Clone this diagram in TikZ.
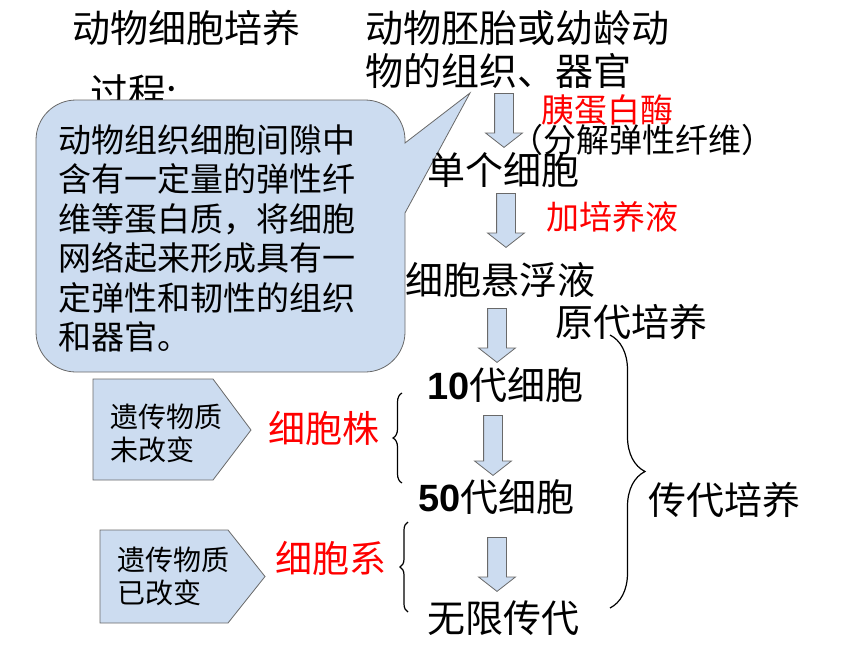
\documentclass[tikz,border=0pt]{standalone}
\usepackage{fontspec}
\setmainfont{Noto Sans CJK SC}
\newfontfamily\arial{Liberation Sans}
\usetikzlibrary{shapes.arrows,decorations.pathreplacing}
\definecolor{boxblue}{RGB}{204,220,240}
\definecolor{edgegray}{RGB}{105,105,105}

\begin{document}
\begin{tikzpicture}[x=1pt, y=-1pt,
    txt/.style={anchor=west, inner sep=0pt, font=\fontsize{38}{43}\selectfont},
    redtxt/.style={anchor=west, inner sep=0pt, text=red, font=\fontsize{33}{38}\selectfont},
    blockarrow/.style={single arrow, shape border rotate=270, anchor=tail, draw=edgegray, fill=boxblue, line width=0.8pt, inner sep=9pt, single arrow head extend=9pt, single arrow tip angle=104, minimum height=#1},
    panel/.style={draw=edgegray, fill=boxblue, line width=0.8pt},
    paneltxt/.style={anchor=west, inner sep=0pt, align=left, font=\fontsize{28}{33}\selectfont},
    curly/.style={decorate, decoration={brace, amplitude=#1}, line width=1.2pt}]
    \useasboundingbox (0,0) rectangle (860,645);

    \node[txt] (title) at (72,28) {动物细胞培养};
    \node[txt] (proc) at (90,92) {过程:};
    \node[txt, align=left] (src) at (365,49.5) {动物胚胎或幼龄动\\物的组织、器官};

    % callout
    \filldraw[panel] (36,236) [rounded corners=40pt] -- (36,100) -- (405,100) [sharp corners] -- (405,143) -- (470,93) -- (405,213) [rounded corners=40pt] -- (405,372) -- (36,372) -- cycle;
    \node[anchor=west, inner sep=0pt, align=left, font=\fontsize{33}{39.5}\selectfont] (fiber) at (58,238.5) {动物组织细胞间隙中\\含有一定量的弹性纤\\维等蛋白质，将细胞\\网络起来形成具有一\\定弹性和韧性的组织\\和器官。};

    % main steps
    \node[blockarrow=54pt] (a1) at (504,93) {};
    \node[redtxt] (enzyme) at (541,110) {胰蛋白酶};
    \node[inner sep=0pt, font=\fontsize{33}{38}\selectfont] (cut) at (642,140) {（分解弹性纤维）};
    \node[txt] (single) at (427,170) {单个细胞};
    \node[blockarrow=54pt] (a2) at (506,193) {};
    \node[redtxt] (medium) at (546,217) {加培养液};
    \node[txt] (susp) at (405,280) {细胞悬浮液};
    \node[txt] (primary) at (555,322) {原代培养};
    \node[blockarrow=54pt] (a3) at (497,308) {};
    \node[txt] (g10) at (427,385) {{\arial\bfseries 10}代细胞};
    \node[blockarrow=60pt] (a4) at (493,415) {};
    \node[txt] (g50) at (418,497) {{\arial\bfseries 50}代细胞};
    \node[blockarrow=54pt] (a5) at (497,537) {};
    \node[txt] (endless) at (427,618) {无限传代};
    \node[txt] (passage) at (648,500) {传代培养};

    % left side
    \filldraw[panel] (93,379) -- (213,379) -- (251,430) -- (213,480) -- (93,480) -- cycle;
    \node[paneltxt] (same) at (110,433.5) {遗传物质\\未改变};
    \filldraw[panel] (100,530) -- (228,530) -- (265,576.5) -- (228,623) -- (100,623) -- cycle;
    \node[paneltxt] (changed) at (117,576.5) {遗传物质\\已改变};
    \node[redtxt, font=\fontsize{37}{40}\selectfont] (strain) at (268,428) {细胞株};
    \node[redtxt, font=\fontsize{37}{40}\selectfont] (cline) at (275,558) {细胞系};

    % braces
    \coordinate (bt) at (610,335);
    \coordinate (bb) at (610,608);
    \coordinate (s1b) at (402,483);
    \coordinate (s1t) at (402,393);
    \coordinate (s2b) at (408,612);
    \coordinate (s2t) at (408,522);
    \draw[curly=35pt] (bt) -- (bb);
    \draw[curly=9pt] (s1b) -- (s1t);
    \draw[curly=8pt] (s2b) -- (s2t);
\end{tikzpicture}
\end{document}
